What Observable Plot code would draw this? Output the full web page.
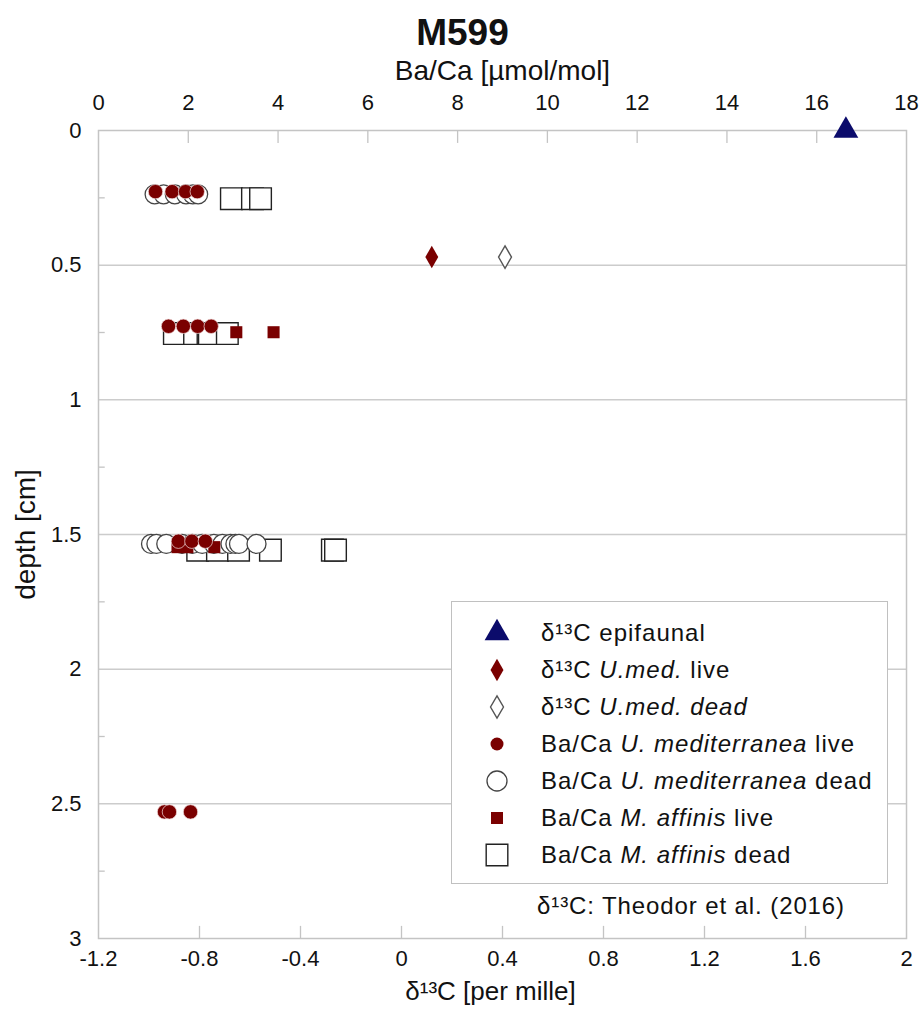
<!DOCTYPE html>
<html>
<head>
<meta charset="utf-8">
<script src="https://cdn.jsdelivr.net/npm/d3@7"></script>
<script src="https://cdn.jsdelivr.net/npm/@observablehq/plot@0.6"></script>
<style>
  body { margin: 0; background: #fff; }
  #wrap { position: relative; width: 922px; height: 1013px; }
  #legend { position: absolute; left: 451px; top: 601px; width: 437px; height: 283px;
    border: 1.5px solid #c0c0c0; background: #fff; box-sizing: border-box;
    font-family: "Liberation Sans", Arial, sans-serif; font-size: 24px; letter-spacing: 1px; color: #111; }
  .row { position: absolute; left: 0; height: 36px; display: flex; align-items: center; white-space: nowrap; }
  .row svg { width: 89px; height: 36px; flex: none; }
  #cap { position: absolute; left: 537px; top: 892px; font-family: "Liberation Sans", Arial, sans-serif;
    font-size: 24px; letter-spacing: 0.9px; color: #111; white-space: nowrap; }
</style>
</head>
<body>
<div id="wrap"><div id="plot"></div><div id="legend"></div><div id="cap"></div></div>
<script>
// ---- tick values and labels ----
const baTicks = [0, 2, 4, 6, 8, 10, 12, 14, 16, 18];
const baTickLabels = ["0", "2", "4", "6", "8", "10", "12", "14", "16", "18"];
const d13Ticks = [-1.2, -0.8, -0.4, 0, 0.4, 0.8, 1.2, 1.6, 2];
const d13TickLabels = ["-1.2", "-0.8", "-0.4", "0", "0.4", "0.8", "1.2", "1.6", "2"];
const depthTicks = [0, 0.5, 1, 1.5, 2, 2.5, 3];
const depthTickLabels = ["0", "0.5", "1", "1.5", "2", "2.5", "3"];
const depthMinor = [0.25, 0.75, 1.25, 1.75, 2.25, 2.75];

// ---- Ba/Ca series (µmol/mol) ----
const umedLiveBa    = [1.27, 1.64, 1.94, 2.20, 1.56, 1.89, 2.21, 2.51, 1.78, 2.08, 2.38, 1.47, 1.58, 2.05];
const umedLiveDepth = [0.227, 0.227, 0.227, 0.227, 0.727, 0.727, 0.727, 0.727, 1.525, 1.525, 1.525, 2.53, 2.53, 2.53];
const umedDeadBa    = [1.25, 1.45, 1.70, 1.95, 2.10, 2.22, 1.17, 1.29, 1.51, 1.86, 2.09, 2.31, 2.57, 2.76, 2.94, 3.05, 3.13, 3.52];
const umedDeadDepth = [0.237, 0.237, 0.237, 0.237, 0.237, 0.237, 1.535, 1.535, 1.535, 1.535, 1.535, 1.535, 1.535, 1.535, 1.535, 1.535, 1.535, 1.535];
const maffLiveBa    = [3.07, 3.90, 1.76, 1.98, 2.58];
const maffLiveDepth = [0.749, 0.749, 1.547, 1.547, 1.547];
const maffDeadBa    = [2.96, 3.43, 3.61, 1.69, 2.14, 2.44, 2.47, 2.87, 2.21, 2.65, 3.12, 3.83, 5.21, 5.28];
const maffDeadDepth = [0.253, 0.253, 0.253, 0.754, 0.754, 0.754, 0.754, 0.754, 1.558, 1.558, 1.558, 1.558, 1.558, 1.558];

// ---- δ13C series (per mille) ----
const epiD13C = [1.76];        const epiDepth = [0];
const umedLiveD13C = [0.12];   const umedLiveD13Depth = [0.47];
const umedDeadD13C = [0.41];   const umedDeadD13Depth = [0.47];

// shared x scale: Ba/Ca 0..18 <-> δ13C -1.2..2
const toBa = d => (d + 1.2) * 18 / 3.2;
const lab = (ticks, labels, conv = v => v) => v => labels[ticks.findIndex(t => Math.abs(conv(t) - v) < 1e-6)];

const RED = "#7a0000", NAVY = "#0b0b6b", GRID = "#cccccc";
const font = "'Liberation Sans', Arial, sans-serif";

const chart = Plot.plot({
  width: 922, height: 1013,
  marginTop: 130, marginLeft: 98, marginRight: 16, marginBottom: 75,
  x: {domain: [0, 18], axis: null},
  y: {domain: [0, 3], reverse: true, axis: null},
  style: {fontFamily: font, background: "white", color: "#111"},
  marks: [
    Plot.gridY(depthTicks.slice(1, -1), {stroke: GRID, strokeOpacity: 1, strokeWidth: 1.5}),
    Plot.frame({stroke: "#c4c4c4", strokeWidth: 1.5}),
    Plot.ruleX(baTicks.slice(1, -1), {x: d => d, y1: 0, y2: 0.048, stroke: "#c4c4c4", strokeWidth: 1.3}),
    Plot.ruleX(d13Ticks.slice(1, -1), {x: toBa, y1: 3, y2: 2.955, stroke: "#c4c4c4", strokeWidth: 1.3}),
    Plot.ruleY(depthMinor, {y: d => d, x1: 0, x2: 0.15, stroke: "#c4c4c4", strokeWidth: 1.3}),
    Plot.axisX({anchor: "top", ticks: baTicks, tickSize: 0, tickPadding: 21, fontSize: 22,
      tickFormat: lab(baTicks, baTickLabels), label: null}),
    Plot.axisX({anchor: "bottom", ticks: d13Ticks.map(toBa), tickSize: 0, tickPadding: 12, fontSize: 22,
      tickFormat: lab(d13Ticks, d13TickLabels, toBa), label: null}),
    Plot.axisY({anchor: "left", ticks: depthTicks, tickSize: 0, tickPadding: 17, fontSize: 22,
      tickFormat: lab(depthTicks, depthTickLabels), label: null}),
    Plot.text(["M599"], {frameAnchor: "top", dy: -112, dx: -40, fontSize: 37, fontWeight: "bold"}),
    Plot.text(["Ba/Ca [µmol/mol]"], {frameAnchor: "top", dy: -70, fontSize: 28}),
    Plot.text(["δ¹³C [per mille]"], {frameAnchor: "bottom", dy: 61, dx: -12, fontSize: 26}),
    Plot.text(["depth [cm]"], {frameAnchor: "left", dx: -72, rotate: -90, textAnchor: "middle", fontSize: 28}),
    // Ba/Ca M. affinis dead
    Plot.dot(maffDeadBa, {x: d => d, y: (d, i) => maffDeadDepth[i], symbol: "square", r: 12.2,
      fill: "white", stroke: "#222", strokeWidth: 1.4}),
    // Ba/Ca U. mediterranea dead
    Plot.dot(umedDeadBa, {x: d => d, y: (d, i) => umedDeadDepth[i], symbol: "circle", r: 9.5,
      fill: "white", stroke: "#444", strokeWidth: 1.3}),
    // Ba/Ca M. affinis live
    Plot.dot(maffLiveBa, {x: d => d, y: (d, i) => maffLiveDepth[i], symbol: "square", r: 6.8,
      fill: RED, stroke: "none"}),
    // Ba/Ca U. mediterranea live
    Plot.dot(umedLiveBa, {x: d => d, y: (d, i) => umedLiveDepth[i], symbol: "circle", r: 7.2,
      fill: RED, stroke: "#f4dede", strokeWidth: 0.7}),
    // δ13C U.med. dead / live
    Plot.dot(umedDeadD13C, {x: toBa, y: (d, i) => umedDeadD13Depth[i], symbol: "diamond", r: 6.8,
      fill: "white", stroke: "#555", strokeWidth: 1.4}),
    Plot.dot(umedLiveD13C, {x: toBa, y: (d, i) => umedLiveD13Depth[i], symbol: "diamond", r: 6.8,
      fill: RED, stroke: "none"}),
    // δ13C epifaunal
    Plot.dot(epiD13C, {x: toBa, y: (d, i) => epiDepth[i], symbol: "triangle", r: 9.2,
      fill: NAVY, stroke: "none"})
  ]
});
document.getElementById("plot").append(chart);

// ---- legend ----
const legendLabels = [
  "δ¹³C epifaunal",
  "δ¹³C <i>U.med.</i> live",
  "δ¹³C <i>U.med. dead</i>",
  "Ba/Ca <i>U. mediterranea</i> live",
  "Ba/Ca <i>U. mediterranea</i> dead",
  "Ba/Ca <i>M. affinis</i> live",
  "Ba/Ca <i>M. affinis</i> dead"
];
const legendSymbols = [
  {type: d3.symbolTriangle, r: 9.2, fill: NAVY, stroke: "none", sw: 0},
  {type: d3.symbolDiamond, r: 6.8, fill: RED, stroke: "none", sw: 0},
  {type: d3.symbolDiamond, r: 6.8, fill: "white", stroke: "#555", sw: 1.4},
  {type: d3.symbolCircle, r: 6.5, fill: RED, stroke: "none", sw: 0},
  {type: d3.symbolCircle, r: 10, fill: "white", stroke: "#444", sw: 1.3},
  {type: d3.symbolSquare, r: 6.8, fill: RED, stroke: "none", sw: 0},
  {type: d3.symbolSquare, r: 12.2, fill: "white", stroke: "#222", sw: 1.4}
];
const leg = d3.select("#legend");
legendLabels.forEach((t, i) => {
  const s = legendSymbols[i];
  const row = leg.append("div").attr("class", "row").style("top", (13 + i * 36.95) + "px");
  const svg = row.append("svg");
  svg.append("path")
    .attr("d", d3.symbol(s.type, Math.PI * s.r * s.r)())
    .attr("transform", "translate(45,18)")
    .attr("fill", s.fill).attr("stroke", s.stroke).attr("stroke-width", s.sw);
  row.append("span").html(t);
});
document.getElementById("cap").innerHTML = "δ¹³C: Theodor et al. (2016)";
</script>
</body>
</html>
